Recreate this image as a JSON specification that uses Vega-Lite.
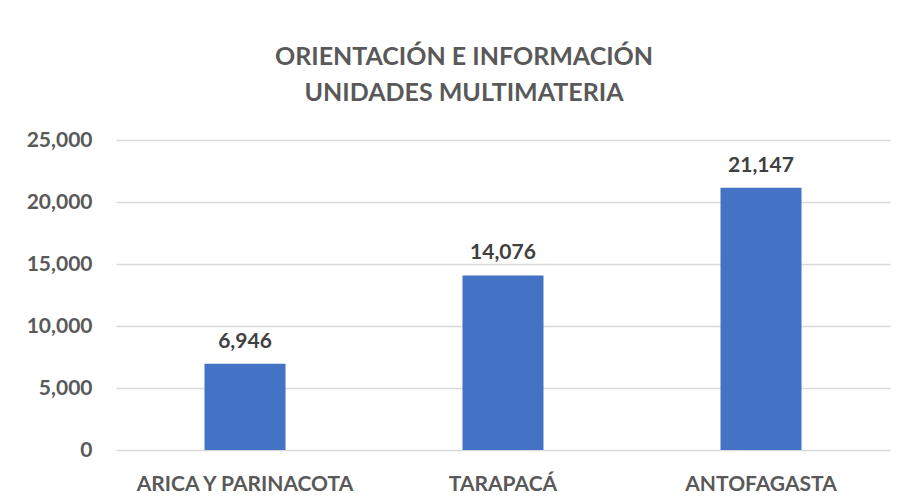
{
  "$schema": "https://vega.github.io/schema/vega-lite/v6.json",
  "width": 774,
  "height": 310,
  "autosize": {"type": "none"},
  "padding": {"left": 116, "top": 140, "right": 16, "bottom": 53},
  "background": "white",
  "title": {
    "text": ["ORIENTACIÓN E INFORMACIÓN", "UNIDADES MULTIMATERIA"],
    "font": "Lato",
    "fontSize": 25,
    "fontWeight": "bold",
    "color": "#595959",
    "lineHeight": 36,
    "anchor": "middle",
    "dx": -39,
    "offset": 23
  },
  "data": {
    "values": [
      {"region": "ARICA Y PARINACOTA", "value": 6946},
      {"region": "TARAPACÁ", "value": 14076},
      {"region": "ANTOFAGASTA", "value": 21147}
    ]
  },
  "encoding": {
    "x": {
      "field": "region",
      "type": "nominal",
      "sort": null,
      "scale": {"paddingInner": 0.686, "paddingOuter": 0.343},
      "axis": {
        "title": null,
        "labelAngle": 0,
        "domain": false,
        "ticks": false,
        "labelPadding": 23,
        "labelLimit": 0,
        "labelFont": "Lato",
        "labelFontSize": 21,
        "labelFontWeight": "bold",
        "labelColor": "#595959"
      }
    },
    "y": {
      "field": "value",
      "type": "quantitative",
      "scale": {"domain": [0, 25000]},
      "axis": {
        "title": null,
        "values": [0, 5000, 10000, 15000, 20000, 25000],
        "format": ",d",
        "domain": false,
        "ticks": false,
        "labelPadding": 24,
        "labelFont": "Lato",
        "labelFontSize": 21,
        "labelFontWeight": "bold",
        "labelColor": "#595959",
        "gridColor": "#D9D9D9",
        "gridWidth": 1.5
      }
    }
  },
  "layer": [
    {"mark": {"type": "bar", "color": "#4472C4"}},
    {
      "mark": {
        "type": "text",
        "font": "Lato",
        "fontSize": 21,
        "fontWeight": "bold",
        "color": "#404040",
        "baseline": "alphabetic",
        "dy": -16
      },
      "encoding": {"text": {"field": "value", "type": "quantitative", "format": ",d"}}
    }
  ],
  "config": {"view": {"stroke": null}}
}
